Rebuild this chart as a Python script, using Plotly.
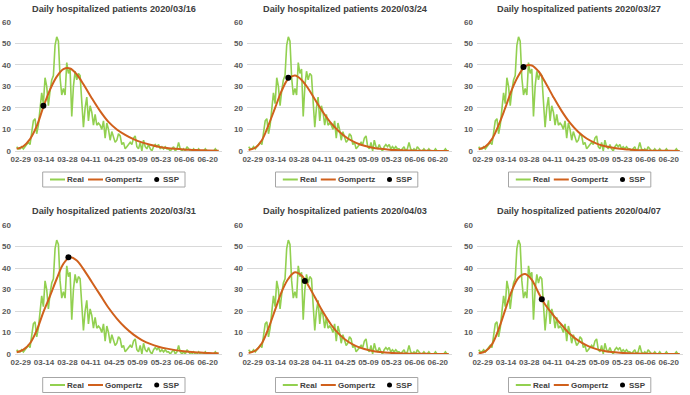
import pandas as pd
import plotly.graph_objects as go

# ---------------- data ----------------
start_date = "2020-02-29"
real = [2, 1, 1, 2, 1, 2, 3, 4, 3, 8, 14, 15, 8, 12, 20, 27, 22, 34, 30, 21,
        28, 33, 35, 49, 53, 51, 34, 26, 29, 26, 41, 36, 38, 16, 30, 37, 33, 36, 35, 25,
        11, 20, 25, 14, 21, 18, 12, 17, 12, 13, 12, 10, 14, 6, 13, 10, 5, 9, 6, 4,
        5, 8, 7, 3, 4, 1, 2, 3, 4, 3, 6, 7, 2, 1, 4, 0, 5, 2, 1, 3,
        1, 0, 2, 3, 2, 3, 1, 2, 1, 2, 1, 1, 0, 1, 2, 0, 1, 4, 1, 0,
        1, 0, 2, 1, 0, 0, 1, 0, 0, 1, 0, 0, 0, 1, 0, 0, 0, 0, 0, 1,
        0, 0]

gomp_days = [0, 4, 8, 12, 16, 20, 24, 28, 32, 36, 40, 45, 50, 55, 60, 65, 70,
             75, 80, 85, 90, 95, 100, 105, 110, 115, 121]

gomp_0316 = [1.0, 2.2, 5.5, 11.5, 20.5, 28.5, 34.5, 38.0, 38.3, 35.5, 31.0, 24.5, 18.5, 13.5,
             10.0, 7.5, 5.5, 4.0, 2.9, 2.0, 1.4, 1.0, 0.7, 0.5, 0.35, 0.25, 0.15]
gomp_0324 = [0.5, 1.5, 5.0, 12.0, 20.0, 28.0, 33.5, 35.0, 33.0, 29.0, 24.0, 18.0, 12.8, 8.8,
             5.8, 3.8, 2.4, 1.5, 1.0, 0.6, 0.4, 0.25, 0.15, 0.1, 0.06, 0.04, 0.02]
gomp_0327 = [0.8, 2.0, 5.5, 12.0, 20.0, 28.5, 35.0, 39.3, 39.7, 37.0, 32.0, 25.0, 18.5, 13.0,
             8.8, 5.8, 3.8, 2.4, 1.6, 1.0, 0.65, 0.4, 0.27, 0.17, 0.1, 0.07, 0.04]
gomp_0331 = [0.8, 2.0, 5.0, 11.0, 19.5, 27.0, 35.0, 42.0, 45.0, 43.5, 39.5, 33.5, 27.5, 21.5,
             16.5, 12.3, 9.0, 6.5, 4.7, 3.4, 2.5, 1.8, 1.3, 0.9, 0.7, 0.5, 0.35]
gomp_0403 = [0.5, 1.5, 5.0, 12.0, 20.5, 29.0, 35.0, 38.0, 36.5, 32.0, 26.5, 19.5, 13.5, 9.0,
             5.8, 3.7, 2.3, 1.4, 0.9, 0.55, 0.33, 0.2, 0.12, 0.08, 0.05, 0.03, 0.02]
gomp_0407 = [0.3, 1.2, 4.5, 11.5, 20.5, 29.5, 35.5, 37.2, 34.5, 28.5, 23.0, 18.0, 13.5, 9.3,
             6.2, 4.0, 2.5, 1.5, 0.9, 0.55, 0.33, 0.2, 0.12, 0.07, 0.04, 0.02, 0.01]

titles = ["Daily hospitalized patients 2020/03/16", "Daily hospitalized patients 2020/03/24",
          "Daily hospitalized patients 2020/03/27", "Daily hospitalized patients 2020/03/31",
          "Daily hospitalized patients 2020/04/03", "Daily hospitalized patients 2020/04/07"]
ssp_dates = ["2020-03-16", "2020-03-24", "2020-03-27", "2020-03-31", "2020-04-03", "2020-04-07"]
ssp_values = [21, 34, 39, 45, 34, 25.5]
gomp_all = [gomp_0316, gomp_0324, gomp_0327, gomp_0331, gomp_0403, gomp_0407]
legend_names = ["Real", "Gompertz", "SSP"]

y_ticks = [0, 10, 20, 30, 40, 50, 60]

# ---------------- layout geometry ----------------
W, H = 690, 395
def px(x):
    return x / W
def py(y):
    return 1 - y / H

col_x = [(15, 222), (247, 452), (477, 683)]
row_y = [(21.7, 151), (225, 354)]
title_x = [113.5, 345, 578.5]
title_y = [9, 211]
leg_left = [42.7, 275.5, 508.5]
leg_top = [172, 377.5]
LEG_W, LEG_H = 142.3, 15

GREEN = "#92D050"
ORANGE = "#D0601C"
FONT = "Liberation Sans, Arial"
TXT = "#595959"

dates = pd.date_range(start_date, periods=len(real), freq="D")
gdates = [pd.Timestamp(start_date) + pd.Timedelta(days=d) for d in gomp_days]

fig = go.Figure()
layout = dict(width=W, height=H, margin=dict(l=0, r=0, t=0, b=0),
              paper_bgcolor="white", plot_bgcolor="white", showlegend=False,
              annotations=[], shapes=[])

for i in range(6):
    r, c = divmod(i, 3)
    n = "" if i == 0 else str(i + 1)
    xa, ya = "x" + n, "y" + n
    fig.add_trace(go.Scatter(x=dates, y=real, mode="lines", name=legend_names[0],
                             line=dict(color=GREEN, width=1.6),
                             xaxis=xa, yaxis=ya))
    fig.add_trace(go.Scatter(x=gdates, y=gomp_all[i], mode="lines", name=legend_names[1],
                             line=dict(color=ORANGE, width=2, shape="spline", smoothing=1.0),
                             xaxis=xa, yaxis=ya))
    fig.add_trace(go.Scatter(x=[ssp_dates[i]], y=[ssp_values[i]], mode="markers",
                             name=legend_names[2], marker=dict(color="black", size=6),
                             xaxis=xa, yaxis=ya))
    x0, x1 = col_x[c]
    y0, y1 = row_y[r]
    layout["xaxis" + n] = dict(
        domain=[px(x0), px(x1)], anchor=ya, type="date",
        range=["2020-02-28", "2020-07-01"],
        tick0=start_date, dtick=14 * 86400000, tickformat="%m-%d",
        showgrid=False, zeroline=False, showline=True, linecolor="#D9D9D9",
        ticks="", tickangle=0, automargin=False, ticklabelshift=4,
        tickfont=dict(family=FONT, size=8, color=TXT, weight="bold"),
        fixedrange=True)
    layout["yaxis" + n] = dict(
        domain=[py(y1), py(y0)], anchor=xa, range=[0, 60],
        tickvals=y_ticks, showgrid=True, gridcolor="#D9D9D9", gridwidth=1,
        zeroline=False, showline=False, ticks="", automargin=False,
        tickfont=dict(family=FONT, size=8, color=TXT, weight="bold"),
        ticklabelstandoff=3, fixedrange=True)
    layout["annotations"].append(dict(
        text="<b>" + titles[i] + "</b>", x=px(title_x[c]), y=py(title_y[r]),
        xref="paper", yref="paper", xanchor="center", yanchor="middle",
        showarrow=False, font=dict(family=FONT, size=9.2, color="#404040")))

    # legend box (drawn)
    L, T = leg_left[c], leg_top[r]
    cy = T + LEG_H / 2
    layout["shapes"].append(dict(type="rect", xref="paper", yref="paper",
                                 x0=px(L), x1=px(L + LEG_W), y0=py(T + LEG_H), y1=py(T),
                                 line=dict(color="#A6A6A6", width=1), fillcolor="white"))
    layout["shapes"].append(dict(type="line", xref="paper", yref="paper",
                                 x0=px(L + 7.3), x1=px(L + 22.3), y0=py(cy), y1=py(cy),
                                 line=dict(color=GREEN, width=2)))
    layout["shapes"].append(dict(type="line", xref="paper", yref="paper",
                                 x0=px(L + 45.3), x1=px(L + 60.3), y0=py(cy), y1=py(cy),
                                 line=dict(color=ORANGE, width=2)))
    layout["shapes"].append(dict(type="circle", xref="paper", yref="paper",
                                 x0=px(L + 111.5), x1=px(L + 116.5),
                                 y0=py(cy + 2.5), y1=py(cy - 2.5),
                                 line=dict(color="black", width=0), fillcolor="black"))
    for txt, dx in zip(legend_names, [24.5, 62.3, 120.3]):
        layout["annotations"].append(dict(
            text="<b>" + txt + "</b>", x=px(L + dx), y=py(cy), xref="paper", yref="paper",
            xanchor="left", yanchor="middle", showarrow=False,
            xshift=-2, font=dict(family=FONT, size=8, color="#404040")))

fig.update_layout(**layout)
fig.write_html("out.html", config={"displayModeBar": False, "staticPlot": True},
               post_script="document.body.style.margin='0';document.body.style.overflow='hidden';")
